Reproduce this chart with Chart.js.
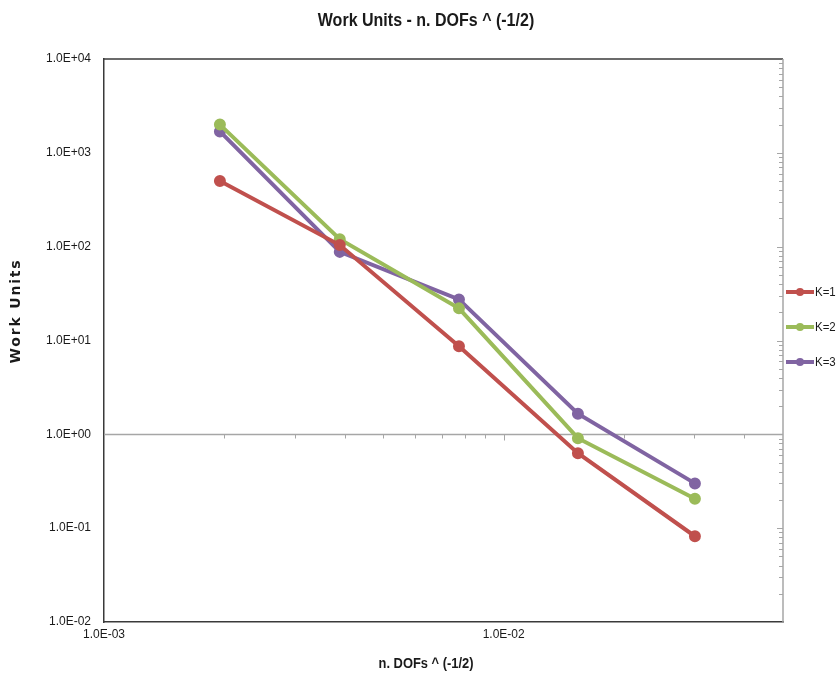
<!DOCTYPE html>
<html>
<head>
<meta charset="utf-8">
<title>Work Units - n. DOFs ^ (-1/2)</title>
<script src="https://cdn.jsdelivr.net/npm/chart.js@4.4.0/dist/chart.umd.min.js"></script>
<style>
    html, body { margin: 0; padding: 0; background: #fff; }
    #wrap { width: 840px; height: 679px; }
</style>
</head>
<body>
<div id="wrap"><canvas id="chart" width="840" height="679"></canvas></div>
<script>
// Datos
const dofs = [0.00195, 0.00389, 0.00773, 0.01534, 0.0301];
const k1 = [500, 104, 8.7, 0.63, 0.082];
const k2 = [2000, 120, 22, 0.91, 0.206];
const k3 = [1690, 88, 27.4, 1.66, 0.30];
const seriesNames = ['K=1', 'K=2', 'K=3'];
const seriesColors = ['#C0504D', '#9BBB59', '#8064A2'];
const yTicks = [0.01, 0.1, 1, 10, 100, 1000, 10000];
const xTicks = [0.001, 0.01];

const sans = "'Liberation Sans', Arial, sans-serif";

function sci(v) {
    const e = Math.round(Math.log10(v));
    return '1.0E' + (e < 0 ? '-' : '+') + String(Math.abs(e)).padStart(2, '0');
}

function serie(i, vals) {
    return {
        label: seriesNames[i],
        data: dofs.map((x, j) => ({ x: x, y: vals[j] })),
        borderColor: seriesColors[i],
        backgroundColor: seriesColors[i],
        pointBackgroundColor: seriesColors[i],
        pointBorderColor: seriesColors[i],
        borderWidth: 4,
        pointRadius: 4,
        pointHoverRadius: 4,
        tension: 0
    };
}

// texto estrecho (tipo Calibri) comprimiendo en horizontal
function narrowText(ctx, txt, x, y, sx) {
    ctx.save();
    ctx.translate(x, y);
    ctx.scale(sx, 1);
    ctx.fillText(txt, 0, 0);
    ctx.restore();
}

// Ejes extra, títulos y leyenda
const decor = {
    id: 'decor',
    beforeDatasetsDraw(chart) {
        const ctx = chart.ctx;
        const a = chart.chartArea;
        const xs = chart.scales.x;
        const ys = chart.scales.y;
        ctx.save();
        // borde superior
        ctx.strokeStyle = '#3a3a3a';
        ctx.lineWidth = 1.5;
        ctx.beginPath();
        ctx.moveTo(a.left, a.top);
        ctx.lineTo(a.right, a.top);
        ctx.stroke();

        ctx.strokeStyle = '#a6a6a6';
        ctx.lineWidth = 1.5;
        // eje vertical derecho
        ctx.beginPath();
        ctx.moveTo(a.right, a.top);
        ctx.lineTo(a.right, a.bottom);
        ctx.stroke();
        ctx.lineWidth = 1;
        for (let e = -2; e < 4; e++) {
            for (let m = 1; m < 10; m++) {
                if (m === 1 && e === -2) continue;
                const py = Math.round(ys.getPixelForValue(m * Math.pow(10, e))) + 0.5;
                const len = m === 1 ? 6 : 4;
                ctx.beginPath();
                ctx.moveTo(a.right - len, py);
                ctx.lineTo(a.right, py);
                ctx.stroke();
            }
        }
        // eje horizontal en y = 1
        const y1 = Math.round(ys.getPixelForValue(1)) + 0.5;
        ctx.lineWidth = 1.5;
        ctx.beginPath();
        ctx.moveTo(a.left, y1);
        ctx.lineTo(a.right, y1);
        ctx.stroke();
        ctx.lineWidth = 1;
        for (let e = -3; e < -1; e++) {
            for (let m = 1; m < 10; m++) {
                const v = m * Math.pow(10, e);
                if (v <= xs.min || v >= xs.max) continue;
                const px = Math.round(xs.getPixelForValue(v)) + 0.5;
                ctx.beginPath();
                ctx.moveTo(px, y1);
                ctx.lineTo(px, y1 + (m === 1 ? 6 : 4));
                ctx.stroke();
            }
        }
        ctx.restore();
    },
    afterDraw(chart) {
        const ctx = chart.ctx;
        ctx.save();
        ctx.fillStyle = '#1a1a1a';
        ctx.textAlign = 'center';
        ctx.textBaseline = 'middle';
        ctx.font = "bold 18px " + sans;
        narrowText(ctx, 'Work Units - n. DOFs ^ (-1/2)', 426, 21, 0.89);
        ctx.font = "bold 15px " + sans;
        narrowText(ctx, 'n. DOFs ^ (-1/2)', 426, 664, 0.86);

        ctx.save();
        ctx.translate(16, 311);
        ctx.rotate(-Math.PI / 2);
        ctx.font = "bold 14px 'DejaVu Sans', sans-serif";
        ctx.letterSpacing = '1.8px';
        ctx.fillText('Work Units', 0, 0);
        ctx.restore();

        // leyenda
        ctx.textAlign = 'left';
        ctx.font = "13.5px " + sans;
        chart.data.datasets.forEach((ds, i) => {
            const ly = 292 + i * 35;
            ctx.strokeStyle = ds.borderColor;
            ctx.lineWidth = 4;
            ctx.beginPath();
            ctx.moveTo(786, ly);
            ctx.lineTo(814, ly);
            ctx.stroke();
            ctx.fillStyle = ds.borderColor;
            ctx.beginPath();
            ctx.arc(800, ly, 4, 0, Math.PI * 2);
            ctx.fill();
            ctx.fillStyle = '#1a1a1a';
            narrowText(ctx, ds.label, 815, ly, 0.85);
        });
        ctx.restore();
    }
};

new Chart(document.getElementById('chart'), {
    type: 'line',
    data: {
        datasets: [serie(0, k1), serie(1, k2), serie(2, k3)]
    },
    options: {
        responsive: false,
        animation: false,
        layout: { padding: { left: 0, right: 57, top: 59, bottom: 0 } },
        plugins: {
            legend: { display: false },
            title: { display: false },
            tooltip: { enabled: false }
        },
        scales: {
            x: {
                type: 'logarithmic',
                min: 0.001,
                max: 0.05,
                grid: { display: false, drawTicks: false },
                border: { display: true, color: '#3a3a3a', width: 1.5 },
                afterBuildTicks: s => { s.ticks = xTicks.map(v => ({ value: v })); },
                afterFit: s => { s.height = 57; },
                ticks: {
                    autoSkip: false,
                    maxRotation: 0,
                    padding: 5,
                    color: '#1a1a1a',
                    font: { family: sans, size: 12 },
                    callback: v => sci(v)
                }
            },
            y: {
                type: 'logarithmic',
                min: 0.01,
                max: 10000,
                grid: { display: false, drawTicks: false },
                border: { display: true, color: '#3a3a3a', width: 1.5 },
                afterBuildTicks: s => { s.ticks = yTicks.map(v => ({ value: v })); },
                afterFit: s => { s.width = 104; },
                ticks: {
                    autoSkip: false,
                    padding: 13,
                    color: '#1a1a1a',
                    font: { family: sans, size: 12 },
                    callback: v => sci(v)
                }
            }
        }
    },
    plugins: [decor]
});
</script>
</body>
</html>
